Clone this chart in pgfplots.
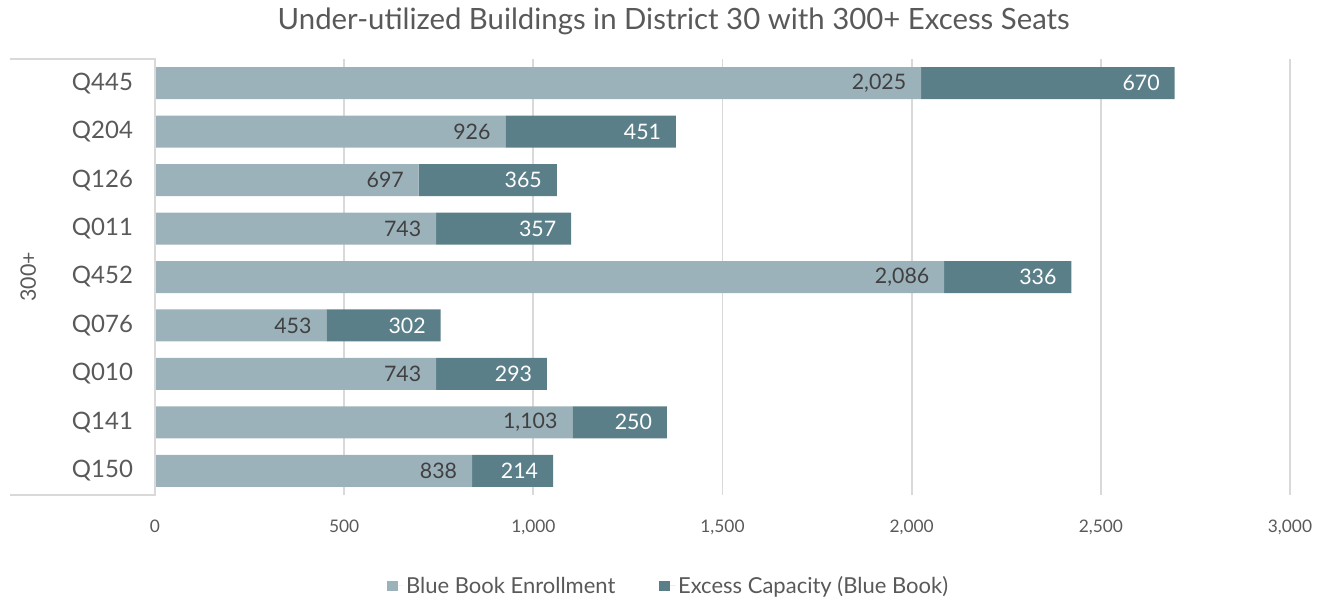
\documentclass[border=0pt]{standalone}
\usepackage{pgfplots}
\pgfplotsset{compat=1.18}
\usepackage{fontspec}
\setmainfont{Lato}
\definecolor{lightbar}{HTML}{9CB2BB}
\definecolor{darkbar}{HTML}{5A7F89}
\definecolor{gridc}{HTML}{D9D9D9}
\definecolor{txt}{HTML}{595959}
\definecolor{lab}{HTML}{404040}
\pgfplotsset{
  base/.style={
    scale only axis,
    width=851.25pt, height=327pt,
    xmin=0, xmax=3000,
    ymin=-0.5, ymax=8.5,
    clip=false,
  },
}
\begin{document}
\begin{tikzpicture}
\begin{axis}[
  base,
  xbar stacked, bar width=24pt,
  xtick={0,500,...,3000},
  ytick={0,...,8},
  yticklabels={Q150,Q141,Q010,Q076,Q452,Q011,Q126,Q204,Q445},
  xmajorgrids, major grid style={gridc, line width=1.3pt},
  axis line style={draw=none},
  major tick length=0pt,
  /pgf/number format/assume math mode=true,
  /pgf/number format/1000 sep={,},
  scaled x ticks=false,
  xticklabel style={font=\fontsize{13}{15}\selectfont, text=txt, yshift=-15pt},
  yticklabel style={font=\fontsize{18}{20}\selectfont, text=txt, xshift=-13pt},
  title={Under-utilized Buildings in District 30 with 300+ Excess Seats},
  title style={font=\fontsize{22}{25}\selectfont, text=txt, at={(0.457,1.067)}, anchor=center},
  legend columns=2,
  legend style={draw=none, at={(0.4529,-0.2087)}, anchor=center, font=\fontsize{16.5}{18}\selectfont, text=txt,
    /tikz/every even column/.append style={column sep=31pt}},
  legend image code/.code={\fill[#1] (0pt,-4pt) rectangle (8pt,4pt); \path (0pt,0pt) -- (12pt,0pt);},
]
\addplot[fill=lightbar, draw=none] coordinates {
  (838,0) (1103,1) (743,2) (453,3) (2086,4) (743,5) (697,6) (926,7) (2025,8)};
\addplot[fill=darkbar, draw=none] coordinates {
  (214,0) (250,1) (293,2) (302,3) (336,4) (357,5) (365,6) (451,7) (670,8)};
\legend{Blue Book Enrollment, Excess Capacity (Blue Book)}
\end{axis}
% value labels: at the end of each segment (cumulative), inside end
\begin{axis}[
  base, hide axis,
  nodes near coords,
  point meta=explicit,
  nodes near coords={\pgfmathprintnumber[assume math mode=true,1000 sep={,}]{\pgfplotspointmeta}},
  every node near coord/.append style={anchor=east, inner sep=0pt, xshift=-11pt, font=\fontsize{16}{18}\selectfont},
]
\addplot[only marks, mark=none, every node near coord/.append style={text=lab}] coordinates {
  (838,0)[838] (1103,1)[1103] (743,2)[743] (453,3)[453] (2086,4)[2086] (743,5)[743] (697,6)[697] (926,7)[926] (2025,8)[2025]};
\addplot[only marks, mark=none, every node near coord/.append style={text=white}] coordinates {
  (1052,0)[214] (1353,1)[250] (1036,2)[293] (755,3)[302] (2422,4)[336] (1100,5)[357] (1062,6)[365] (1377,7)[451] (2695,8)[670]};
\end{axis}
% group bracket and label
\draw[gridc, line width=1.3pt] (-108.75pt,327pt) -- (0pt,327pt) -- (0pt,0pt) -- (-108.75pt,0pt);
\node[rotate=90, font=\fontsize{16}{18}\selectfont, text=txt] at (-95pt,163.5pt) {300+};
\pgfresetboundingbox
\useasboundingbox (-116.25pt,-78.75pt) rectangle (879pt,371.25pt);
\end{tikzpicture}
\end{document}
